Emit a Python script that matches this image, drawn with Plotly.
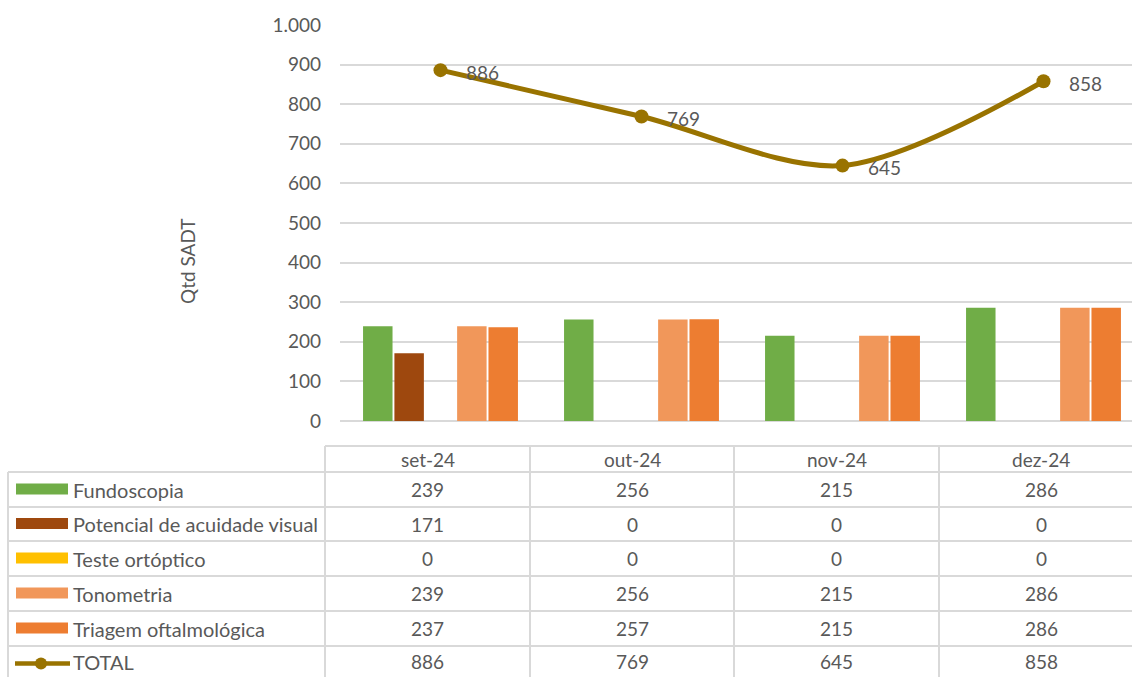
import plotly.graph_objects as go

categories = ["set-24", "out-24", "nov-24", "dez-24"]
series_names = ["Fundoscopia", "Potencial de acuidade visual", "Teste ortóptico",
                "Tonometria", "Triagem oftalmológica"]
fundoscopia = [239, 256, 215, 286]
potencial = [171, 0, 0, 0]
teste = [0, 0, 0, 0]
tonometria = [239, 256, 215, 286]
triagem = [237, 257, 215, 286]
total = [886, 769, 645, 858]
y_ticks = [0, 100, 200, 300, 400, 500, 600, 700, 800, 900, 1000]

colors = ["#70AD47", "#9E480E", "#FFC000", "#F1975A", "#ED7D31"]
total_color = "#997300"
text_color = "#595959"
grid_color = "#D9D9D9"
FONT = "Lato"
FS = 19

W, H = 1132, 677
L, T, B = 340, 25, 421
PW, PH = W - L, B - T

def px(x):
    return (x - L) / PW

def py(y):
    return (B - y) / PH

fig = go.Figure()
bar_series = [fundoscopia, potencial, teste, tonometria, triagem]
for name, vals, col in zip(series_names, bar_series, colors):
    fig.add_trace(go.Bar(x=list(range(len(categories))), y=vals, name=name,
                         marker=dict(color=col, line=dict(width=0)),
                         showlegend=False, hoverinfo="y"))

fig.add_trace(go.Scatter(x=list(range(len(categories))), y=total, name="TOTAL",
                         mode="lines+markers",
                         line=dict(color=total_color, width=5, shape="spline", smoothing=0.9),
                         marker=dict(color=total_color, size=14),
                         showlegend=False))

shapes = []
annotations = []

for i, v in enumerate(total):
    annotations.append(dict(x=i, y=v, xref="x", yref="y", text=str(v), showarrow=False,
                            xanchor="left", yanchor="middle", xshift=23, yshift=-2,
                            font=dict(family=FONT, size=FS, color=text_color)))

# y-axis title
annotations.append(dict(x=px(187), y=py(262), xref="paper", yref="paper", text="Qtd SADT",
                        showarrow=False, textangle=-90, xanchor="center", yanchor="middle",
                        font=dict(family=FONT, size=FS, color=text_color)))

# data table
col_edges = [325, 530, 734, 939, 1143]
row_edges = [472, 507, 541, 576, 611, 646, 681]
header_top = 446
line = dict(color=grid_color, width=2)

shapes.append(dict(type="line", xref="paper", yref="paper", x0=px(325), x1=px(W),
                   y0=py(header_top), y1=py(header_top), line=line))
for r in row_edges[:-1]:
    shapes.append(dict(type="line", xref="paper", yref="paper", x0=px(8), x1=px(W),
                       y0=py(r), y1=py(r), line=line))
shapes.append(dict(type="line", xref="paper", yref="paper", x0=px(8), x1=px(8),
                   y0=py(row_edges[0]), y1=py(H + 5), line=line))
for c in col_edges[:-1]:
    shapes.append(dict(type="line", xref="paper", yref="paper", x0=px(c), x1=px(c),
                       y0=py(header_top), y1=py(H + 5), line=line))

tfont = dict(family=FONT, size=FS, color=text_color)
for j, cat in enumerate(categories):
    cx = (col_edges[j] + col_edges[j + 1]) / 2
    annotations.append(dict(x=px(cx), y=py((header_top + row_edges[0]) / 2), xref="paper", yref="paper",
                            text=cat, showarrow=False, xanchor="center", yanchor="middle", font=tfont))

all_rows = bar_series + [total]
all_names = series_names + ["TOTAL"]
for r, (name, vals) in enumerate(zip(all_names, all_rows)):
    ytop, ybot = row_edges[r], row_edges[r + 1]
    cy = (ytop + ybot) / 2 + (0 if r < 5 else -2)
    for j, v in enumerate(vals):
        cx = (col_edges[j] + col_edges[j + 1]) / 2
        annotations.append(dict(x=px(cx), y=py(cy), xref="paper", yref="paper", text=str(v),
                                showarrow=False, xanchor="center", yanchor="middle", font=tfont))
    annotations.append(dict(x=px(71), y=py(cy), xref="paper", yref="paper", text=name,
                            showarrow=False, xanchor="left", yanchor="middle",
                            font=dict(family=FONT, size=FS + 1, color=text_color)))
    if r < 5:
        shapes.append(dict(type="rect", xref="paper", yref="paper", x0=px(16), x1=px(68),
                           y0=py(cy - 6), y1=py(cy + 5), fillcolor=colors[r], line=dict(width=0)))
    else:
        shapes.append(dict(type="line", xref="paper", yref="paper", x0=px(15), x1=px(70),
                           y0=py(cy + 2), y1=py(cy + 2), line=dict(color=total_color, width=4.5)))
        shapes.append(dict(type="circle", xref="paper", yref="paper", x0=px(35), x1=px(47),
                           y0=py(cy + 8), y1=py(cy - 4), fillcolor=total_color, line=dict(width=0)))

fig.update_layout(
    width=W, height=H,
    margin=dict(l=L, r=0, t=T, b=H - B, pad=0),
    paper_bgcolor="white", plot_bgcolor="white",
    barmode="group", bargap=0.22, bargroupgap=0.06,
    separators=",.",
    shapes=shapes, annotations=annotations,
    xaxis=dict(range=[-0.5, -0.5 + PW / 201], showticklabels=False, showgrid=False,
               zeroline=False, showline=False, ticks=""),
    yaxis=dict(range=[0, 1000], tickvals=y_ticks, tickformat=",d", showgrid=True,
               gridcolor=grid_color, gridwidth=1.5, zeroline=True, zerolinecolor=grid_color,
               zerolinewidth=1.5, showline=False, ticks="", ticklabelstandoff=18,
               tickfont=dict(family=FONT, size=FS, color=text_color)),
    font=dict(family=FONT, color=text_color),
)

fig.write_html("out.html", config={"displayModeBar": False},
               post_script="document.body.style.margin='0';document.body.style.overflow='hidden';")
